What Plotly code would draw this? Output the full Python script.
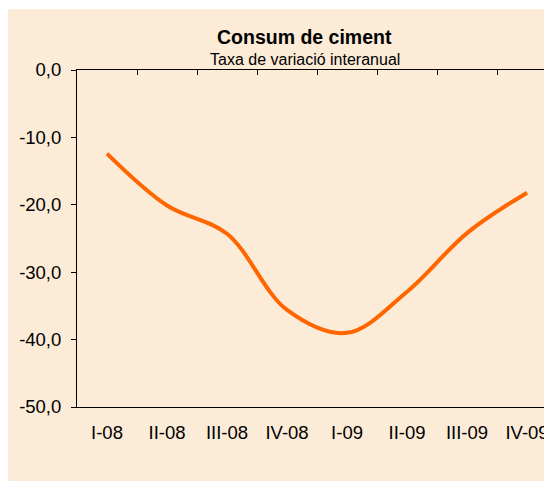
import plotly.graph_objects as go

categories = ["I-08", "II-08", "III-08", "IV-08", "I-09", "II-09", "III-09", "IV-09"]
values = [-12.4, -20.1, -24.3, -35.6, -39.0, -32.9, -24.2, -18.2]
y_tick_values = [0, -10, -20, -30, -40, -50]
y_tick_labels = ["0,0", "-10,0", "-20,0", "-30,0", "-40,0", "-50,0"]
title_text = "Consum de ciment"
subtitle_text = "Taxa de variació interanual"

BG = "#FCEBD6"
FONT = "Liberation Sans, Arial, sans-serif"
x_range = [-0.5, 7.416]

fig = go.Figure()
fig.add_trace(go.Scatter(
    x=categories, y=values, mode="lines",
    line=dict(color="#FF6600", width=4, shape="spline", smoothing=1.0),
    hoverinfo="skip", showlegend=False,
))
# invisible helper trace carrying the bottom label axis
fig.add_trace(go.Scatter(
    x=categories, y=values, mode="lines", xaxis="x2",
    line=dict(width=0, color=BG), opacity=0, hoverinfo="skip", showlegend=False,
))

fig.update_layout(
    width=544, height=473,
    margin=dict(l=69, r=0, t=62, b=74, autoexpand=False),
    paper_bgcolor="white",
    plot_bgcolor=BG,
    font=dict(family=FONT, size=18.5, color="black"),
    xaxis=dict(
        type="category", categoryorder="array", categoryarray=categories,
        range=x_range, side="top", showline=True, linecolor="black",
        linewidth=1, mirror=True, tickson="boundaries", ticks="inside",
        ticklen=5, tickcolor="black", tickwidth=1, showticklabels=False,
        showgrid=False, zeroline=False, automargin=False,
    ),
    xaxis2=dict(
        type="category", categoryorder="array", categoryarray=categories,
        overlaying="x", side="bottom", anchor="y", range=x_range,
        ticks="", showticklabels=True, showline=False, showgrid=False,
        zeroline=False, automargin=False, ticklabelstandoff=12,
    ),
    yaxis=dict(
        range=[-50, 0], tickvals=y_tick_values, ticktext=y_tick_labels,
        ticks="outside", ticklen=5, tickcolor="black", tickwidth=1,
        showline=True, linecolor="black", linewidth=1,
        showgrid=False, zeroline=False, ticklabelstandoff=6, automargin=False,
    ),
    shapes=[dict(
        type="rect", xref="paper", yref="paper",
        x0=-0.2, x1=1.0, y0=-0.3, y1=1.18,
        fillcolor=BG, line=dict(width=0), layer="below",
    )],
    annotations=[
        dict(text="<b>" + title_text + "</b>", xref="paper", yref="paper",
             x=0.4797, y=1.098, xanchor="center", yanchor="middle",
             showarrow=False, font=dict(size=19.5, family=FONT)),
        dict(text=subtitle_text, xref="paper", yref="paper",
             x=0.4797, y=1.032, xanchor="center", yanchor="middle",
             showarrow=False, font=dict(size=16, family=FONT)),
    ],
)

fig.write_html("out.html")
